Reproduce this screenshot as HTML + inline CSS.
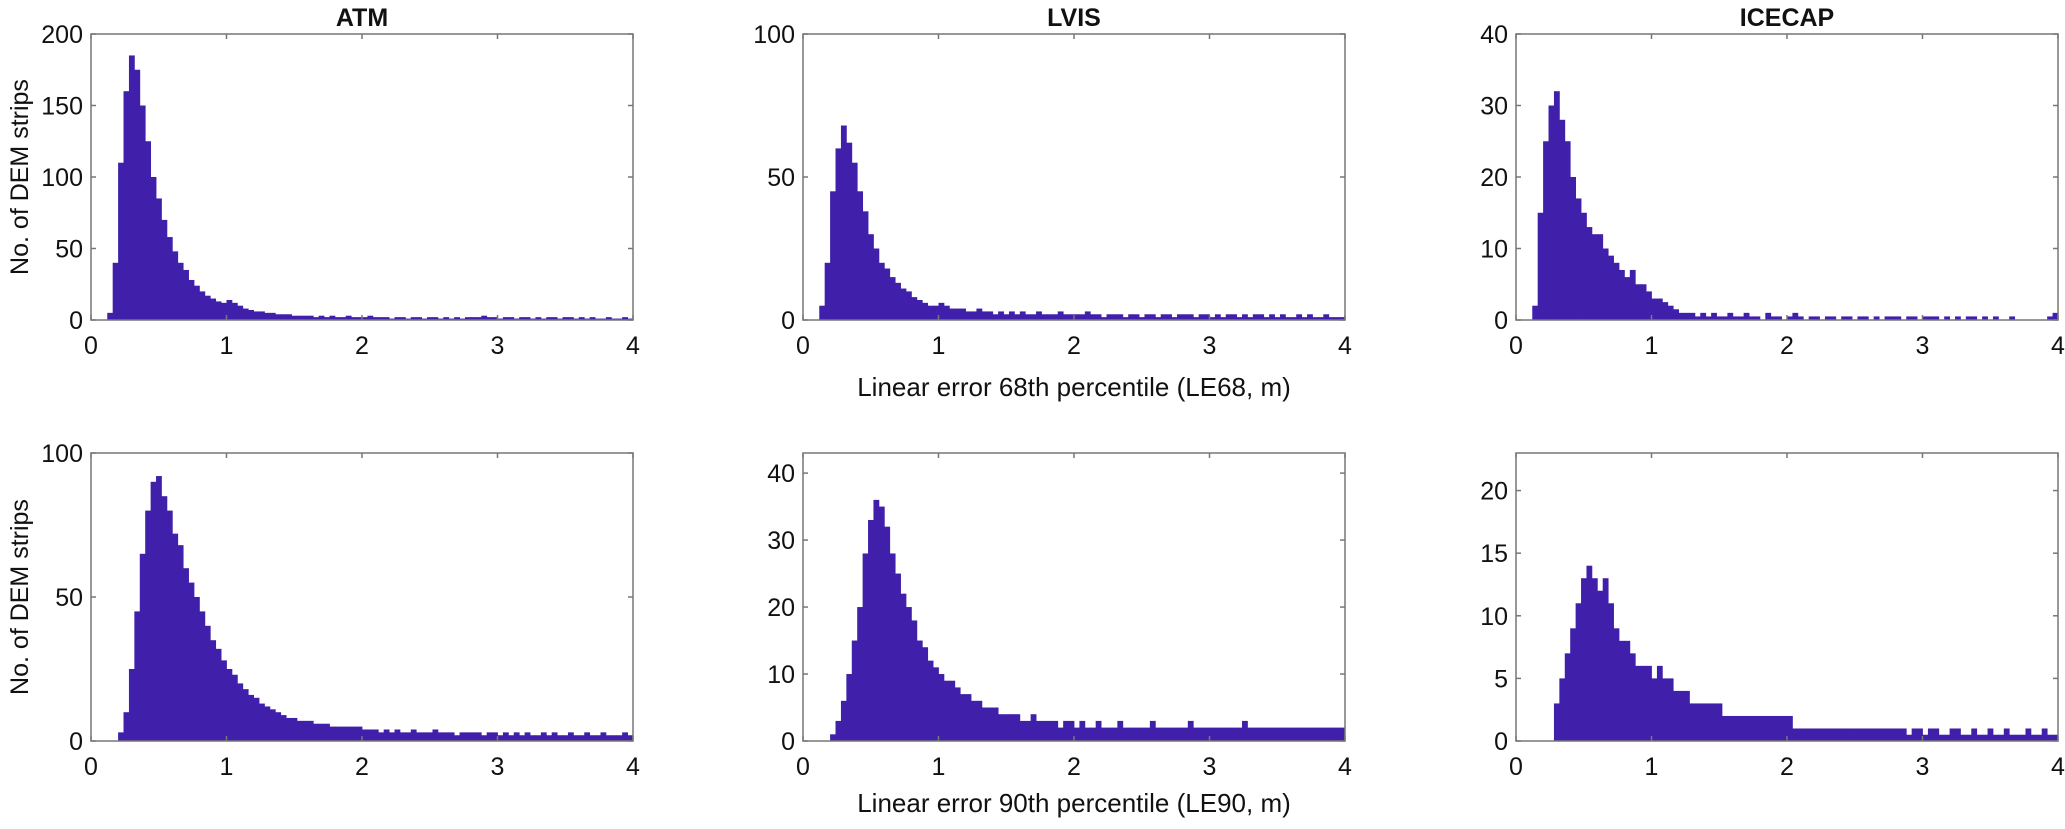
<!DOCTYPE html>
<html><head><meta charset="utf-8">
<style>
html,body{margin:0;padding:0;background:#fff;}
svg{display:block;font-family:"Liberation Sans",Arial,sans-serif;}
</style></head>
<body>
<svg id="fig" width="2065" height="829" viewBox="0 0 2065 829"></svg>
<script>
// bin width 0.04 m, bins start at 0
const binWidth = 0.04;
const titles = ["ATM","LVIS","ICECAP"];
const atmTop = [0,0,0,5,40,110,160,185,175,150,125,100,85,70,58,48,40,35,28,24,20,17,15,13,12,14,12,10,8,7,6,6,5,5,4,4,4,3,3,3,
 3,2,3,2,3,2,2,3,2,2,2,3,2,2,2,1,2,2,1,2,2,1,2,2,1,2,1,2,1,2,2,2,3,2,2,1,2,2,1,2,2,1,2,1,2,2,1,2,2,1,2,1,2,1,1,2,1,1,2,1];
const lvisTop = [0,0,0,5,20,45,60,68,62,55,45,38,30,25,20,18,15,13,11,10,8,7,6,5,5,6,5,4,4,4,3,3,4,3,3,2,3,2,3,2,
 3,2,2,3,2,2,2,3,2,2,2,2,3,2,2,1,2,2,2,1,2,2,1,2,2,1,2,2,1,2,2,2,1,2,2,1,2,1,2,2,1,2,1,2,2,1,2,1,2,1,1,2,1,2,1,1,2,1,1,1];
const icecapTop = [0,0,0,2,15,25,30,32,28,25,20,17,15,13,12,12,10,9,8,7,6,7,5,5,4,3,3,2.5,2,1.5,1,1,1,0.5,1,0.5,1,0.5,0.5,1,
 0.5,0.5,1,0.5,0.5,0,1,0.5,0.5,0,0.5,1,0.5,0,0.5,0.5,0,0.5,0.5,0,0.5,0.5,0,0.5,0.5,0,0.5,0,0.5,0.5,0.5,0,0.5,0.5,0,0.5,0.5,0.5,0,0.5,0,0.5,0,0.5,0.5,0,0.5,0,0.5,0,0,0.5,0,0,0,0,0,0,0.5,1];
const atmBottom = [0,0,0,0,0,3,10,25,45,65,80,90,92,85,80,72,68,60,55,50,45,40,35,32,28,25,23,20,18,16,15,13,12,11,10,9,8,8,7,7,
 7,6,6,6,5,5,5,5,5,5,4,4,4,3,4,3,4,3,3,4,3,3,3,4,3,3,3,2,3,3,3,3,2,3,3,2,3,2,3,2,3,2,2,3,2,3,2,2,3,2,2,3,2,2,3,2,2,2,3,2];
const lvisBottom = [0,0,0,0,0,1,3,6,10,15,20,28,33,36,35,32,28,25,22,20,18,15,14,12,11,10,9,9,8,7,7,6,6,5,5,5,4,4,4,4,
 3,3,4,3,3,3,3,2,3,3,2,3,2,2,3,2,2,2,3,2,2,2,2,2,3,2,2,2,2,2,2,3,2,2,2,2,2,2,2,2,2,3,2,2,2,2,2,2,2,2,2,2,2,2,2,2,2,2,2,2];
const icecapBottom = [0,0,0,0,0,0,0,3,5,7,9,11,13,14,13,12,13,11,9,8,8,7,6,6,6,5,6,5,5,4,4,4,3,3,3,3,3,3,2,2,
 2,2,2,2,2,2,2,2,2,2,2,1,1,1,1,1,1,1,1,1,1,1,1,1,1,1,1,1,1,1,1,1,0.5,1,1,0.5,1,1,0.5,0.5,1,1,0.5,0.5,1,0.5,0.5,1,0.5,0.5,1,0.5,0.5,0.5,1,0.5,0.5,1,0.5,0.5];
const yMaxes = [200,100,40,100,43,23];
const yTickSets = [[0,50,100,150,200],[0,50,100],[0,10,20,30,40],[0,50,100],[0,10,20,30,40],[0,5,10,15,20]];
const xTicks = [0,1,2,3,4];
const seriesList = [atmTop,lvisTop,icecapTop,atmBottom,lvisBottom,icecapBottom];

const NS="http://www.w3.org/2000/svg";
const svg=document.getElementById('fig');
function mk(tag,attrs,parent){const e=document.createElementNS(NS,tag);for(const k in attrs)e.setAttribute(k,attrs[k]);(parent||svg).appendChild(e);return e;}
const lefts=[91,803,1516], W=542;
const tops=[34,453], bots=[320,741];
const color="#4020aa";
const names=["atm-top","lvis-top","icecap-top","atm-bottom","lvis-bottom","icecap-bottom"];
for(let p=0;p<6;p++){
  const col=p%3,row=Math.floor(p/3);
  const L=lefts[col],R=L+W,T=tops[row],B=bots[row];
  const ymax=yMaxes[p];
  const xs=v=>L+v/4*W;
  const ys=v=>B-v/ymax*(B-T);
  const g=mk('g',{});
  
  
  const data=seriesList[p];
  for(let i=0;i<data.length;i++){
    if(data[i]<=0)continue;
    const x0=xs(i*binWidth),x1=xs((i+1)*binWidth);
    const r=mk('rect',{x:x0,y:ys(data[i]),width:x1-x0+0.4,height:B-ys(data[i]),fill:color},g);
    
    
  }
  const box=mk('rect',{x:L,y:T,width:W,height:B-T,fill:'none',stroke:'#777','stroke-width':1.5},g);
  
  
  xTicks.forEach(t=>{
    const x=xs(t);
    mk('line',{x1:x,x2:x,y1:B,y2:B-5,stroke:'#777','stroke-width':1.5},g);
    mk('line',{x1:x,x2:x,y1:T,y2:T+5,stroke:'#777','stroke-width':1.5},g);
    const tx=mk('text',{x:x,y:B+34,'text-anchor':'middle','font-size':25,fill:'#111'},g);
    tx.textContent=t;
    
    
  });
  yTickSets[p].forEach(t=>{
    const y=ys(t);
    mk('line',{x1:L,x2:L+5,y1:y,y2:y,stroke:'#777','stroke-width':1.5},g);
    mk('line',{x1:R,x2:R-5,y1:y,y2:y,stroke:'#777','stroke-width':1.5},g);
    const tx=mk('text',{x:L-8,y:y+9,'text-anchor':'end','font-size':25,fill:'#111'},g);
    tx.textContent=t;
    
    
  });
  if(row===0){
    const tt=mk('text',{x:L+W/2,y:26,'text-anchor':'middle','font-size':25,'font-weight':'bold',fill:'#111'},g);
    tt.textContent=titles[col];
    
    
  }
  if(col===0){
    const cy=(T+B)/2;
    const yl=mk('text',{x:0,y:0,'text-anchor':'middle','font-size':25,fill:'#111',transform:`translate(28,${cy}) rotate(-90)`},g);
    yl.textContent='No. of DEM strips';
    
    
  }
}
const xl1=mk('text',{x:1074,y:396,'text-anchor':'middle','font-size':26,fill:'#111'});
xl1.textContent='Linear error 68th percentile (LE68, m)';


const xl2=mk('text',{x:1074,y:812,'text-anchor':'middle','font-size':26,fill:'#111'});
xl2.textContent='Linear error 90th percentile (LE90, m)';


</script>
</body></html>
